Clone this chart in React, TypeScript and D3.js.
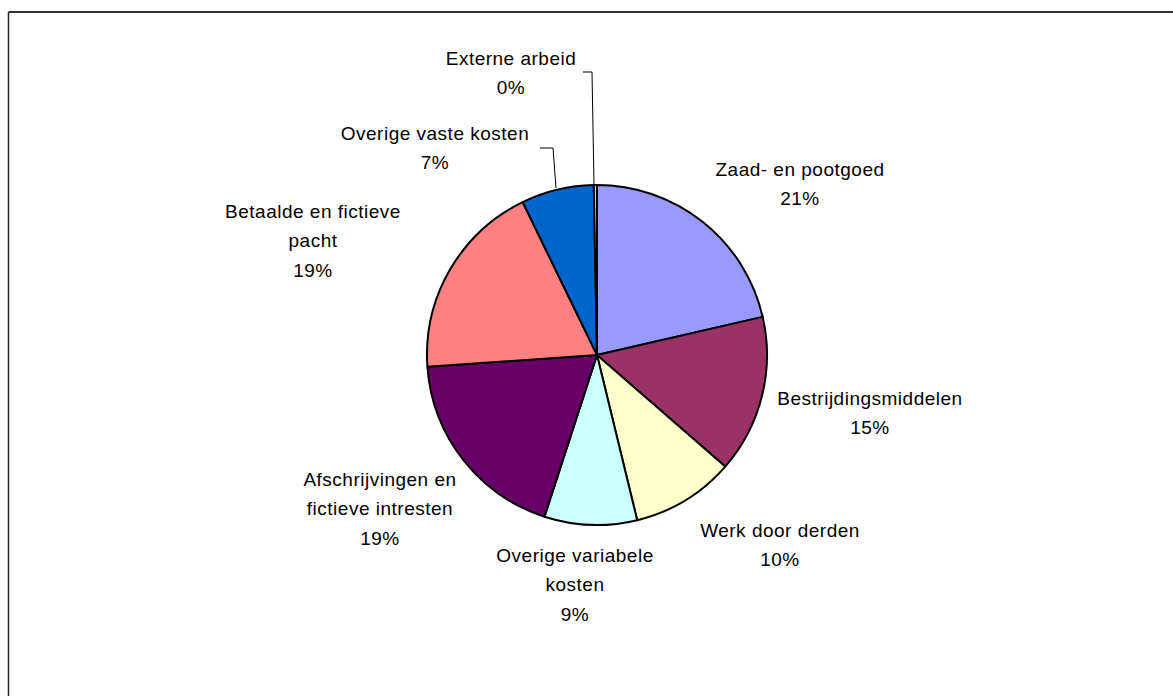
import React from "react";
import * as d3 from "d3";

const categories = [
  "Zaad- en pootgoed",
  "Bestrijdingsmiddelen",
  "Werk door derden",
  "Overige variabele kosten",
  "Afschrijvingen en fictieve intresten",
  "Betaalde en fictieve pacht",
  "Overige vaste kosten",
  "Externe arbeid",
];
const values = [21.4, 15.0, 9.8, 8.8, 18.9, 18.9, 6.9, 0.3];
const labelLines = [
  ["Zaad- en pootgoed"],
  ["Bestrijdingsmiddelen"],
  ["Werk door derden"],
  ["Overige variabele", "kosten"],
  ["Afschrijvingen en", "fictieve intresten"],
  ["Betaalde en fictieve", "pacht"],
  ["Overige vaste kosten"],
  ["Externe arbeid"],
];
const colors = ["#9999FF", "#993366", "#FFFFCC", "#CCFFFF", "#660066", "#FF8080", "#0066CC", "#CCCCFF"];

// layout: label block centre x and first line centre y
const labelPos = [
  [800, 169],
  [870, 398],
  [780, 530],
  [575, 555],
  [380, 479],
  [313, 211],
  [435, 133],
  [511, 58],
];
// leader lines for small slices (index -> polyline)
const leaders: Record<number, [number, number][]> = {
  6: [[540, 148], [553, 148], [556, 188]],
  7: [[583, 72], [592, 72], [594, 185]],
};

const W = 1173;
const H = 696;
const cx = 597;
const cy = 355;
const R = 170;
const lineH = 29.5;

export default function App() {
  const total = d3.sum(values);
  const pie = d3.pie<number>().sort(null).value((d) => d);
  const arcs = pie(values);
  const arcGen = d3.arc<d3.PieArcDatum<number>>().innerRadius(0).outerRadius(R);

  return (
    <svg width={W} height={H} style={{ position: "absolute", left: 0, top: 0 }}>
      <rect x={0} y={0} width={W} height={H} fill="#fff" />
      <line x1={8.5} y1={12} x2={W} y2={12} stroke="#333" strokeWidth={2} />
      <line x1={8.5} y1={12} x2={8.5} y2={H} stroke="#222" strokeWidth={1.5} />
      <g transform={`translate(${cx},${cy})`}>
        {arcs.map((a, i) => (
          <path key={i} d={arcGen(a) || ""} fill={colors[i]} stroke="#000" strokeWidth={2} strokeLinejoin="round" />
        ))}
      </g>
      {Object.entries(leaders).map(([k, pts]) => (
        <polyline key={k} points={pts.map((p) => p.join(",")).join(" ")} fill="none" stroke="#000" strokeWidth={1} />
      ))}
      {categories.map((c, i) => {
        const lines = [...labelLines[i], `${Math.round((values[i] / total) * 100)}%`];
        const [lx, ly] = labelPos[i];
        return (
          <text
            key={c}
            x={lx}
            y={ly}
            textAnchor="middle"
            fontFamily="Liberation Sans, Arial, sans-serif"
            fontSize={19}
            letterSpacing={0.5}
            fill="#000"
          >
            {lines.map((t, j) => (
              <tspan key={j} x={lx} y={ly + j * lineH} dominantBaseline="central">
                {t}
              </tspan>
            ))}
          </text>
        );
      })}
    </svg>
  );
}
